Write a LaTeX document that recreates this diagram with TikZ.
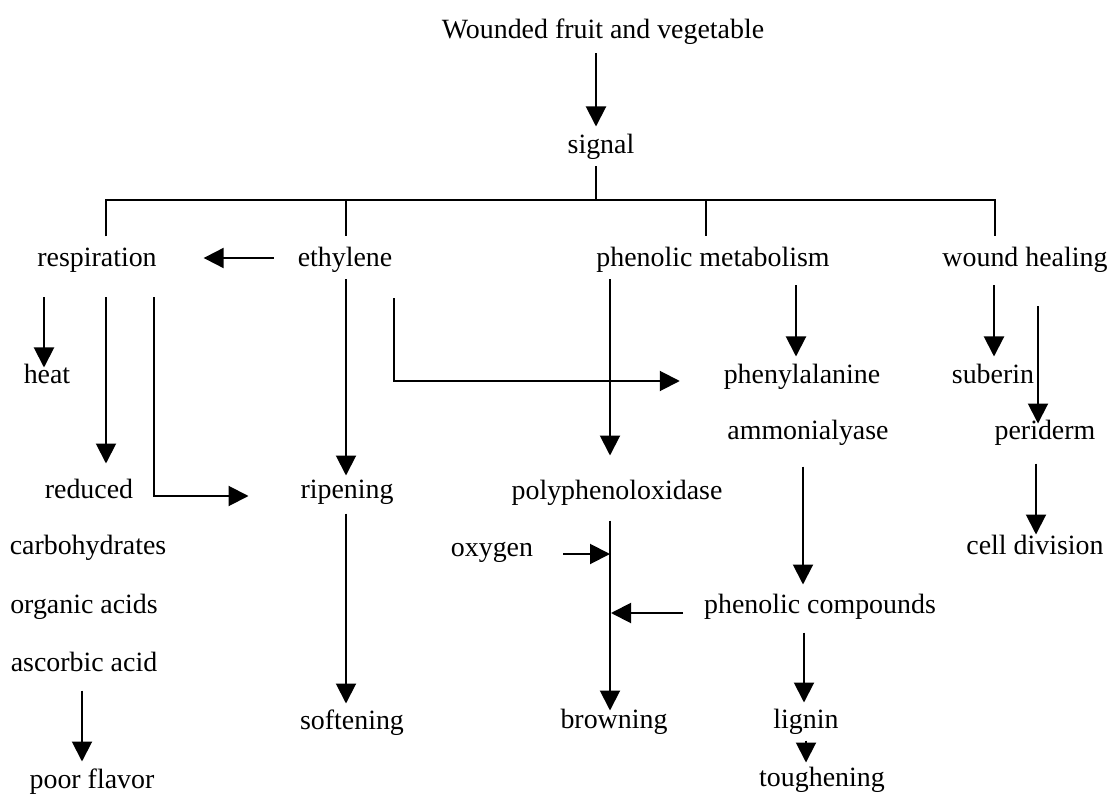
\documentclass[tikz,border=0pt]{standalone}
\usepackage{fontspec}
\setmainfont{Liberation Serif}
\usetikzlibrary{arrows.meta, calc}
\begin{document}
\begin{tikzpicture}[x = 1pt, y = -1pt, line width = 2pt, font = \fontsize{27.9}{33}\selectfont,
  every node/.style = { inner sep = 0pt, text height = 19pt, text depth = 6pt },
  arr/.style = { -{Triangle[length = 20pt, width = 20pt]} }]
  \useasboundingbox (0, 0) rectangle (1114, 794);

  \node (wounded) at (603, 32) {Wounded fruit and vegetable};
  \node (signal) at (601, 147) {signal};

  \node (resp) at (97, 260) {respiration};
  \node (ethyl) at (345, 260) {ethylene};
  \node (phenmet) at (713, 260) {phenolic metabolism};
  \node (wound) at (1025, 260) {wound healing};

  \node (heat) at (47, 377) {heat};
  \node (phenyl) at (802, 377) {phenylalanine};
  \node (suberin) at (993, 377) {suberin};
  \node (ammon) at (808, 433) {ammonialyase};
  \node (periderm) at (1045, 433) {periderm};
  \node (reduced) at (89, 492) {reduced};
  \node (ripening) at (347, 492) {ripening};
  \node (polyph) at (617, 493) {polyphenoloxidase};
  \node (carbo) at (88, 548) {carbohydrates};
  \node (oxygen) at (492, 550) {oxygen};
  \node (celldiv) at (1035, 548) {cell division};
  \node (organic) at (84, 607) {organic acids};
  \node (phencomp) at (820, 607) {phenolic compounds};
  \node (ascorbic) at (84, 665) {ascorbic acid};
  \node (softening) at (352, 723) {softening};
  \node (browning) at (614, 722) {browning};
  \node (lignin) at (806, 722) {lignin};
  \node (poor) at (92, 782) {poor flavor};
  \node (tough) at (822, 780) {toughening};

  % top of the tree
  \coordinate (bar) at (0, 200);
  \draw [arr] ($(wounded.south) + (-7, 8)$) -- ($(signal.north) + (-5, -7)$);
  \draw ($(signal.south) + (-5, 6)$) -- ($(signal.south |- bar) + (-5, 0)$);
  \draw ($(resp.north) + (9, -10)$) |- ($(wound.north |- bar) + (-30, 0)$) -- ($(wound.north) + (-30, -10)$);
  \draw ($(ethyl.north |- bar) + (1, 0)$) -- ($(ethyl.north) + (1, -10)$);
  \draw ($(phenmet.north |- bar) + (-7, 0)$) -- ($(phenmet.north) + (-7, -10)$);

  % respiration and ethylene
  \draw [arr] ($(ethyl.west) + (-23, -2)$) -- ($(resp.east) + (46, -2)$);
  \draw [arr] ($(resp.south) + (-53, 24)$) -- ($(heat.north) + (-3, 4)$);
  \draw [arr] ($(resp.south) + (9, 24)$) -- ($(reduced.north) + (17, -15)$);
  \draw [arr] ($(resp.south) + (57, 24)$) |- ($(ripening.west) + (-51, 4)$);
  \draw [arr] ($(ethyl.south) + (1, 6)$) -- ($(ripening.north) + (-1, -3)$);
  \draw [arr] ($(ethyl.south) + (49, 25)$) |- ($(phenyl.west) + (-43, 4)$);
  \draw [arr] ($(ripening.south) + (-1, 8)$) -- ($(softening.north) + (-6, -6)$);
  \draw [arr] ($(ascorbic.south) + (-2, 12)$) -- ($(poor.north) + (-10, -7)$);

  % phenolic metabolism
  \draw [arr] ($(phenmet.south) + (-103, 6)$) -- ($(polyph.north) + (-7, -24)$);
  \draw [arr] ($(phenmet.south) + (83, 12)$) -- ($(phenyl.north) + (-6, -7)$);
  \draw [arr] ($(polyph.south) + (-7, 14)$) coordinate (pline) -- ($(browning.north) + (-4, 2)$);
  \draw [arr] ($(oxygen.east) + (29, 4)$) -- ($(oxygen.east -| pline) + (0, 4)$);
  \draw [arr] ($(phencomp.west) + (-20, 6)$) -- ($(phencomp.west -| pline) + (1, 6)$);
  \draw [arr] ($(ammon.south) + (-5, 20)$) -- ($(phencomp.north) + (-17, -9)$);
  \draw [arr] ($(phencomp.south) + (-16, 12)$) -- ($(lignin.north) + (-2, -6)$);
  \draw [arr] ($(lignin.south) + (0, 5)$) -- ($(lignin.south |- tough.north) + (0, -4)$);

  % wound healing
  \draw [arr] ($(wound.south) + (-31, 12)$) -- ($(suberin.north) + (1, -7)$);
  \draw [arr] ($(wound.south) + (13, 33)$) -- ($(periderm.north) + (-7, 4)$);
  \draw [arr] ($(periderm.south) + (-9, 17)$) -- ($(celldiv.north) + (1, 0)$);
\end{tikzpicture}
\end{document}
